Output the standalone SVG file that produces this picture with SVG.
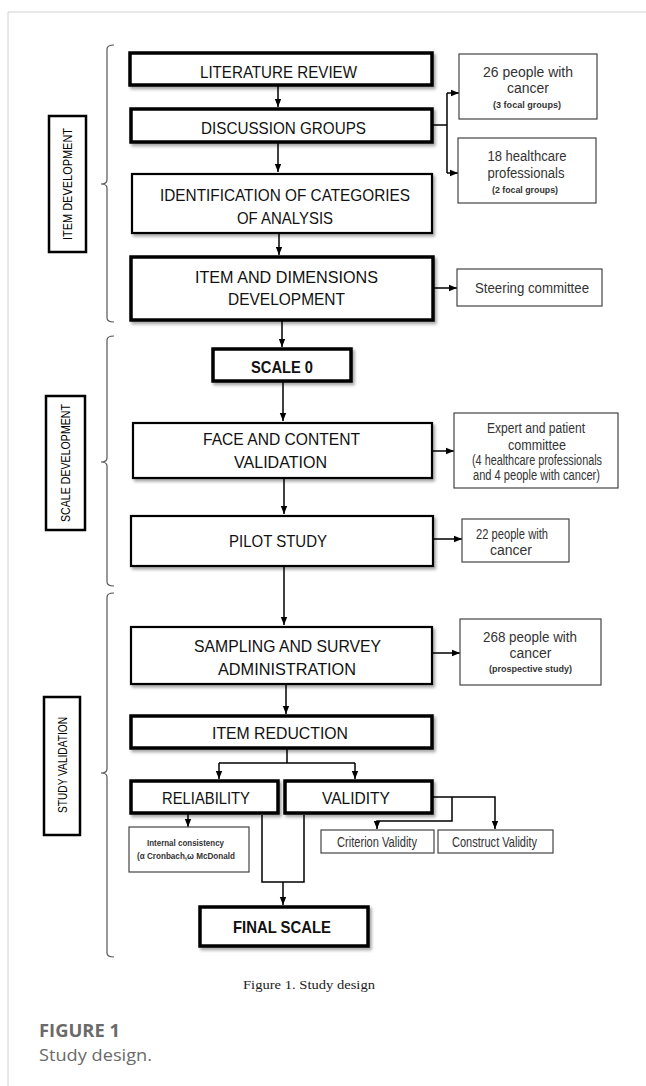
<svg xmlns="http://www.w3.org/2000/svg" width="646" height="1086" viewBox="0 0 646 1086">
<defs>
<filter id="sh" x="-10%" y="-20%" width="130%" height="160%"><feDropShadow dx="2" dy="2.5" stdDeviation="1.5" flood-color="#000" flood-opacity="0.35"/></filter>
<marker id="ah" viewBox="0 0 10 10" refX="10" refY="5" markerWidth="8" markerHeight="8" markerUnits="userSpaceOnUse" orient="auto"><path d="M0,1 L10,5 L0,9 z" fill="#000"/></marker>
<style>
.bx rect{fill:#fff;stroke:#000;filter:url(#sh)}
.thick rect{stroke-width:3.5}
.med rect{stroke-width:2.2}
.t{font-family:"Liberation Sans",Arial,sans-serif;fill:#111;text-anchor:middle;font-size:17px}
.b{font-weight:bold}
.side rect{fill:#fff;stroke:#444;stroke-width:1.2}
.s{font-family:"Liberation Sans",Arial,sans-serif;fill:#333;text-anchor:middle;font-size:14px}
.ss{font-family:"Liberation Sans",Arial,sans-serif;fill:#333;text-anchor:middle;font-size:9px;font-weight:bold}
.conn path{stroke:#000;stroke-width:1.5;fill:none}
.brace{stroke:#555;stroke-width:1.2;fill:none}
.lab rect{fill:#fff;stroke:#000;stroke-width:2.5}
.lt{font-family:"Liberation Sans",Arial,sans-serif;fill:#000;text-anchor:middle;font-size:12px}
</style>
</defs>
<rect width="646" height="1086" fill="#fff"/>
<path d="M8,1086 V12 H646" fill="none" stroke="#d0d0d0" stroke-width="1"/>

<g id="braces">
<path class="brace" d="M114,45 Q107,45 107,49 L107,180 Q107,184 101,184 Q107,184 107,188 L107,318 Q107,322 114,322"/>
<path class="brace" d="M114,336 Q107,336 107,340 L107,458 Q107,462 101,462 Q107,462 107,466 L107,582 Q107,586 114,586"/>
<path class="brace" d="M114,593 Q107,593 107,597 L107,769 Q107,773 101,773 Q107,773 107,777 L107,953 Q107,957 114,957"/>
</g>

<g id="label-item" class="lab"><rect x="49" y="116" width="37" height="136"/><text class="lt" transform="translate(71.5,184) rotate(-90)" textLength="112" lengthAdjust="spacingAndGlyphs">ITEM DEVELOPMENT</text></g>
<g id="label-scale" class="lab"><rect x="46" y="396" width="39" height="134"/><text class="lt" transform="translate(70,463) rotate(-90)" textLength="118" lengthAdjust="spacingAndGlyphs">SCALE  DEVELOPMENT</text></g>
<g id="label-study" class="lab"><rect x="44" y="697" width="36" height="138"/><text class="lt" transform="translate(66.5,765) rotate(-90)" textLength="96" lengthAdjust="spacingAndGlyphs">STUDY VALIDATION</text></g>

<g id="connectors" class="conn">
<path d="M278,86 V107" marker-end="url(#ah)"/>
<path d="M278,143 V172" marker-end="url(#ah)"/>
<path d="M279,234 V255" marker-end="url(#ah)"/>
<path d="M282,321 V347" marker-end="url(#ah)"/>
<path d="M283,382 V421" marker-end="url(#ah)"/>
<path d="M284,479 V514" marker-end="url(#ah)"/>
<path d="M284,567 V625" marker-end="url(#ah)"/>
<path d="M286,685 V714" marker-end="url(#ah)"/>
<path d="M287,749 V763"/>
<path d="M219,763 H355"/>
<path d="M219,763 V779" marker-end="url(#ah)"/>
<path d="M355,763 V779" marker-end="url(#ah)"/>
<path d="M433,125 H447"/>
<path d="M447,93 V173"/>
<path d="M447,93 H459" marker-end="url(#ah)"/>
<path d="M447,173 H458" marker-end="url(#ah)"/>
<path d="M434,288 H457" marker-end="url(#ah)"/>
<path d="M433,451 H454" marker-end="url(#ah)"/>
<path d="M434,539 H462" marker-end="url(#ah)"/>
<path d="M433,653 H460" marker-end="url(#ah)"/>
<path d="M188,814 V827" marker-end="url(#ah)"/>
<path d="M433,797 H495 V829" marker-end="url(#ah)"/>
<path d="M452,797 V821 H377 V829" marker-end="url(#ah)"/>
<path d="M262,815 V882 H304 V815"/>
<path d="M283,882 V905" marker-end="url(#ah)"/>
</g>

<g id="n-literature" class="bx thick"><rect x="130" y="53" width="302" height="32"/><text class="t" x="278.5" y="78" font-size="18" textLength="157" lengthAdjust="spacingAndGlyphs">LITERATURE REVIEW</text></g>
<g id="n-discussion" class="bx thick"><rect x="131" y="109" width="301" height="33"/><text class="t" x="283.5" y="133.5" font-size="18" textLength="165" lengthAdjust="spacingAndGlyphs">DISCUSSION GROUPS</text></g>
<g id="n-identification" class="bx med"><rect x="132" y="174" width="300" height="59"/><text class="t" x="285" y="201" textLength="250" lengthAdjust="spacingAndGlyphs">IDENTIFICATION OF CATEGORIES</text><text class="t" x="285" y="224" textLength="96" lengthAdjust="spacingAndGlyphs">OF ANALYSIS</text></g>
<g id="n-item" class="bx thick"><rect x="131" y="257" width="302" height="63"/><text class="t" x="286.5" y="283" textLength="183" lengthAdjust="spacingAndGlyphs">ITEM AND DIMENSIONS</text><text class="t" x="286.5" y="305" textLength="117" lengthAdjust="spacingAndGlyphs">DEVELOPMENT</text></g>
<g id="n-scale0" class="bx thick"><rect x="213" y="349" width="138" height="32"/><text class="t b" x="282" y="372.5" font-size="18" textLength="62" lengthAdjust="spacingAndGlyphs">SCALE 0</text></g>
<g id="n-face" class="bx med"><rect x="133" y="423" width="299" height="55"/><text class="t" x="281.5" y="445" textLength="157" lengthAdjust="spacingAndGlyphs">FACE AND CONTENT</text><text class="t" x="280.5" y="468" textLength="93" lengthAdjust="spacingAndGlyphs">VALIDATION</text></g>
<g id="n-pilot" class="bx med"><rect x="131" y="516" width="302" height="50"/><text class="t" x="278" y="546.5" font-size="18" textLength="98" lengthAdjust="spacingAndGlyphs">PILOT STUDY</text></g>
<g id="n-sampling" class="bx med"><rect x="131" y="627" width="301" height="57"/><text class="t" x="287.5" y="652" textLength="187" lengthAdjust="spacingAndGlyphs">SAMPLING AND SURVEY</text><text class="t" x="287" y="675" textLength="138" lengthAdjust="spacingAndGlyphs">ADMINISTRATION</text></g>
<g id="n-reduction" class="bx thick"><rect x="131" y="716" width="301" height="32"/><text class="t" x="280" y="738.5" font-size="17.5" textLength="136" lengthAdjust="spacingAndGlyphs">ITEM REDUCTION</text></g>
<g id="n-reliability" class="bx thick"><rect x="131" y="781" width="147" height="32"/><text class="t" x="206" y="803.5" font-size="18.5" textLength="88" lengthAdjust="spacingAndGlyphs">RELIABILITY</text></g>
<g id="n-validity" class="bx thick"><rect x="285" y="781" width="147" height="32"/><text class="t" x="356" y="803.5" font-size="18.5" textLength="68" lengthAdjust="spacingAndGlyphs">VALIDITY</text></g>
<g id="n-final" class="bx thick"><rect x="200" y="907" width="168" height="39"/><text class="t b" x="282" y="932.5" font-size="18.5" textLength="98" lengthAdjust="spacingAndGlyphs">FINAL SCALE</text></g>

<g id="s-26" class="side"><rect x="459" y="54" width="138" height="65"/><text class="s" x="528" y="77" textLength="90" lengthAdjust="spacingAndGlyphs">26 people with</text><text class="s" x="528" y="93">cancer</text><text class="ss" x="527" y="108" textLength="68" lengthAdjust="spacingAndGlyphs">(3 focal groups)</text></g>
<g id="s-18" class="side"><rect x="458" y="138" width="138" height="65"/><text class="s" x="527" y="161" textLength="79" lengthAdjust="spacingAndGlyphs">18 healthcare</text><text class="s" x="526" y="178" textLength="77" lengthAdjust="spacingAndGlyphs">professionals</text><text class="ss" x="525" y="193" textLength="66" lengthAdjust="spacingAndGlyphs">(2 focal groups)</text></g>
<g id="s-steering" class="side"><rect x="457" y="269" width="145" height="37"/><text class="s" x="532" y="293" textLength="114" lengthAdjust="spacingAndGlyphs">Steering committee</text></g>
<g id="s-expert" class="side"><rect x="454" y="413" width="164" height="75"/><text class="s" x="536" y="432.5" font-size="12.5" textLength="98" lengthAdjust="spacingAndGlyphs">Expert and patient</text><text class="s" x="537" y="449.5" font-size="12.5" textLength="58" lengthAdjust="spacingAndGlyphs">committee</text><text class="s" x="537" y="464.5" font-size="12.5" textLength="130" lengthAdjust="spacingAndGlyphs">(4 healthcare professionals</text><text class="s" x="536.5" y="479.5" font-size="12.5" textLength="127" lengthAdjust="spacingAndGlyphs">and 4 people with cancer)</text></g>
<g id="s-22" class="side"><rect x="462" y="519" width="107" height="43"/><text class="s" x="512" y="538.5" font-size="12.5" textLength="72" lengthAdjust="spacingAndGlyphs">22 people with</text><text class="s" x="511" y="554.5" font-size="12.5">cancer</text></g>
<g id="s-268" class="side"><rect x="460" y="619" width="141" height="66"/><text class="s" x="530" y="642" textLength="94" lengthAdjust="spacingAndGlyphs">268 people with</text><text class="s" x="530.5" y="658">cancer</text><text class="ss" x="530.5" y="672" textLength="83" lengthAdjust="spacingAndGlyphs">(prospective study)</text></g>
<g id="s-internal" class="side"><rect x="129" y="827" width="120" height="45"/><text class="ss" x="185.5" y="846" font-size="8.5" textLength="77" lengthAdjust="spacingAndGlyphs">Internal consistency</text><text class="ss" x="186" y="858.5" font-size="8.5" textLength="98" lengthAdjust="spacingAndGlyphs">(α Cronbach,ω McDonald</text></g>
<g id="s-criterion" class="side"><rect x="321" y="830" width="113" height="23"/><text class="s" x="377" y="846.5" font-size="12.5" textLength="80" lengthAdjust="spacingAndGlyphs">Criterion Validity</text></g>
<g id="s-construct" class="side"><rect x="438" y="830" width="115" height="23"/><text class="s" x="494.5" y="846.5" font-size="12.5" textLength="85" lengthAdjust="spacingAndGlyphs">Construct Validity</text></g>

<text x="309" y="989" font-family="'Liberation Serif','Times New Roman',serif" font-size="13" fill="#222" text-anchor="middle" textLength="132" lengthAdjust="spacingAndGlyphs">Figure 1. Study design</text>
<text x="39" y="1037" font-family="'Open Sans','Noto Sans',sans-serif" font-size="17" font-weight="bold" fill="#6a6a6a" textLength="81" lengthAdjust="spacingAndGlyphs">FIGURE 1</text>
<text x="39" y="1061" font-family="'Open Sans','Noto Sans',sans-serif" font-size="17" fill="#6a6a6a" textLength="113" lengthAdjust="spacingAndGlyphs">Study design.</text>
</svg>
